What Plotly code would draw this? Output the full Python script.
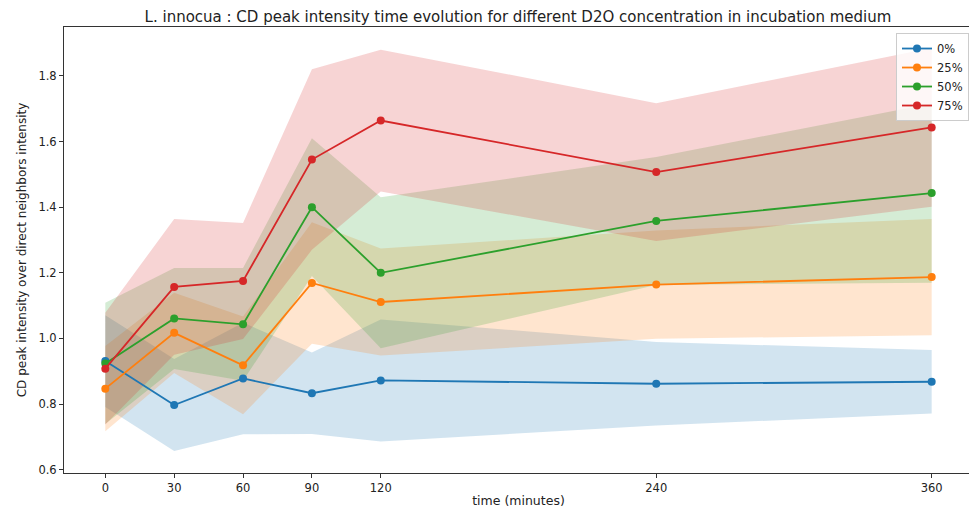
import plotly.graph_objects as go

time_min = [0, 30, 60, 90, 120, 240, 360]
x_ticks = [0, 30, 60, 90, 120, 240, 360]
y_ticks = [0.6, 0.8, 1.0, 1.2, 1.4, 1.6, 1.8]
labels = ["0%", "25%", "50%", "75%"]

mean_0 = [0.931, 0.797, 0.878, 0.833, 0.872, 0.862, 0.868]
upper_0 = [1.071, 0.937, 1.048, 0.957, 1.058, 0.989, 0.965]
lower_0 = [0.791, 0.657, 0.708, 0.709, 0.686, 0.735, 0.771]

mean_25 = [0.847, 1.017, 0.918, 1.169, 1.111, 1.164, 1.187]
upper_25 = [0.977, 1.139, 1.067, 1.354, 1.274, 1.329, 1.364]
lower_25 = [0.717, 0.895, 0.769, 0.984, 0.948, 0.999, 1.010]

mean_50 = [0.924, 1.061, 1.043, 1.400, 1.200, 1.358, 1.443]
upper_50 = [1.109, 1.215, 1.215, 1.610, 1.430, 1.553, 1.716]
lower_50 = [0.739, 0.907, 0.871, 1.190, 0.970, 1.163, 1.170]

mean_75 = [0.908, 1.157, 1.175, 1.545, 1.664, 1.507, 1.643]
upper_75 = [1.078, 1.364, 1.352, 1.820, 1.880, 1.717, 1.885]
lower_75 = [0.738, 0.950, 0.998, 1.270, 1.448, 1.297, 1.401]

colors = ["#1f77b4", "#ff7f0e", "#2ca02c", "#d62728"]
fills = ["rgba(31,119,180,0.2)", "rgba(255,127,14,0.2)",
         "rgba(44,160,44,0.2)", "rgba(214,39,40,0.2)"]

means = [mean_0, mean_25, mean_50, mean_75]
uppers = [upper_0, upper_25, upper_50, upper_75]
lowers = [lower_0, lower_25, lower_50, lower_75]

fig = go.Figure()

for lo, up, fc in zip(lowers, uppers, fills):
    fig.add_trace(go.Scatter(x=time_min, y=lo, mode="lines",
                             line=dict(width=0, color=fc),
                             showlegend=False, hoverinfo="skip"))
    fig.add_trace(go.Scatter(x=time_min, y=up, mode="lines",
                             line=dict(width=0, color=fc),
                             fill="tonexty", fillcolor=fc,
                             showlegend=False, hoverinfo="skip"))

for m, c, lab in zip(means, colors, labels):
    fig.add_trace(go.Scatter(x=time_min, y=m, mode="lines+markers", name=lab,
                             line=dict(color=c, width=1.8),
                             marker=dict(color=c, size=8)))

axis_common = dict(showline=True, linecolor="#333", linewidth=1, mirror=True,
                   ticks="outside", ticklen=4, tickcolor="#333",
                   showgrid=False, zeroline=False, automargin=False,
                   tickfont=dict(size=11.5, color="#222"))

# page body has an 8px margin: figure is sized/placed to compensate
fig.update_layout(
    width=969, height=504,
    margin=dict(l=56, r=4, t=19, b=39),
    paper_bgcolor="white", plot_bgcolor="white",
    font=dict(family="DejaVu Sans", size=11, color="#222"),
    title=dict(text="L. innocua : CD peak intensity time evolution for different D2O concentration in incubation medium",
               x=(518 - 8) / 969, xanchor="center", xref="container",
               y=1 - 9 / 504, yanchor="middle", yref="container",
               font=dict(size=15, color="#222")),
    xaxis=dict(range=[-18, 378], tickvals=x_ticks,
               title=dict(text="time (minutes)", font=dict(size=12.5), standoff=2),
               **axis_common),
    yaxis=dict(range=[0.590, 1.949], tickvals=y_ticks, tickformat=".1f",
               title=dict(text="CD peak intensity over direct neighbors intensity",
                          font=dict(size=12), standoff=9),
               **axis_common),
    legend=dict(x=0.9956, xanchor="right", y=0.9865, yanchor="top",
                traceorder="normal",
                bgcolor="rgba(255,255,255,0.8)", bordercolor="#ccc", borderwidth=1,
                font=dict(size=11.5), tracegroupgap=0, itemwidth=30),
)

fig.write_html("out.html")
